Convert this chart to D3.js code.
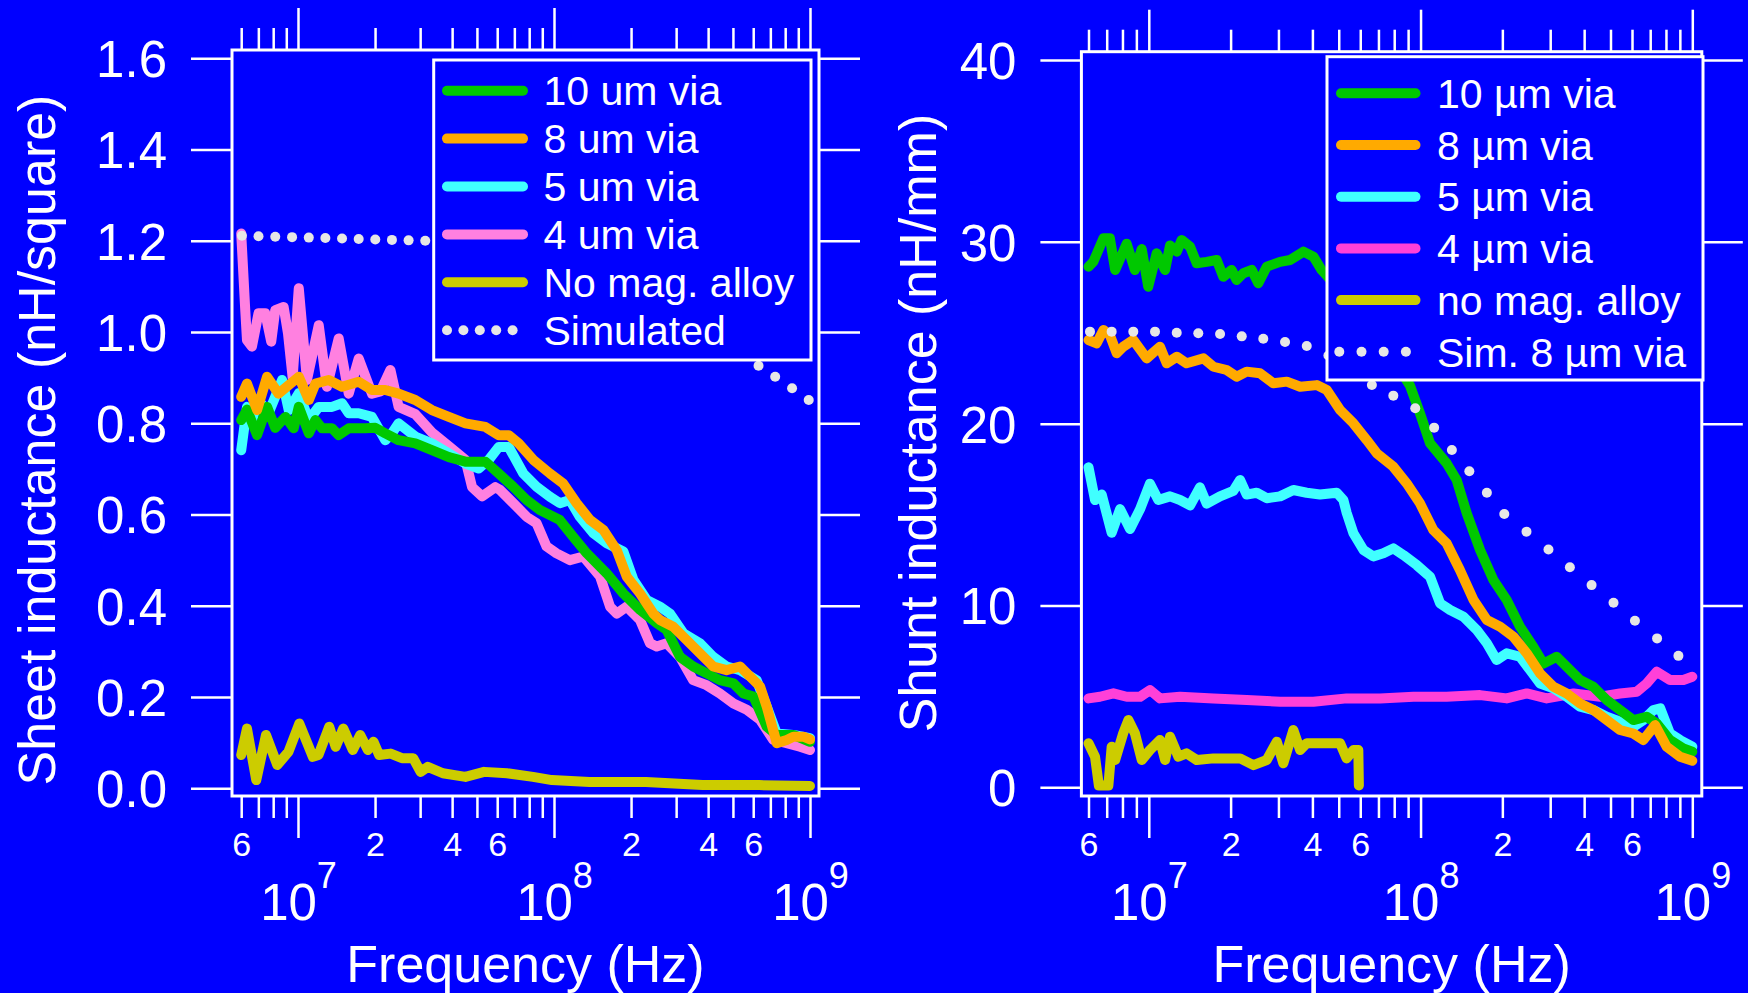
<!DOCTYPE html>
<html><head><meta charset="utf-8">
<script src="https://cdn.jsdelivr.net/npm/d3@7"></script>
<style>html,body{margin:0;padding:0;background:#0000ff;overflow:hidden}</style>
</head><body>
<svg id="chart" width="1748" height="993"></svg>
<script>
// ---------------- DATA ----------------
// Left panel: sheet inductance (nH/square) vs frequency (Hz)
const sheet10um = [[6.0e6,0.807],[6.32e6,0.83],[6.92e6,0.774],[7.57e6,0.836],[8.15e6,0.79],[8.93e6,0.814],[9.62e6,0.789],[1.007e7,0.836],[1.102e7,0.778],[1.17e7,0.807],[1.242e7,0.789],[1.358e7,0.789],[1.442e7,0.774],[1.578e7,0.789],[1.832e7,0.789],[2.004e7,0.79],[2.193e7,0.778],[2.472e7,0.763],[2.871e7,0.756],[3.334e7,0.741],[3.882e7,0.726],[4.508e7,0.716],[5.395e7,0.716],[6.081e7,0.69],[6.93e7,0.661],[7.82e7,0.632],[8.81e7,0.61],[1.054e8,0.588],[1.189e8,0.551],[1.343e8,0.515],[1.607e8,0.471],[1.866e8,0.427],[2.168e8,0.391],[2.518e8,0.362],[2.754e8,0.347],[3.105e8,0.288],[3.499e8,0.267],[3.945e8,0.252],[4.446e8,0.237],[5.023e8,0.23],[5.495e8,0.208],[6.012e8,0.201],[6.776e8,0.135],[7.413e8,0.117],[8.61e8,0.117],[1.0e9,0.102]];
const sheet8um = [[6.0e6,0.858],[6.32e6,0.887],[6.92e6,0.829],[7.57e6,0.902],[8.39e6,0.865],[1.007e7,0.902],[1.102e7,0.851],[1.17e7,0.887],[1.318e7,0.895],[1.486e7,0.88],[1.726e7,0.891],[1.945e7,0.873],[2.193e7,0.873],[2.472e7,0.865],[2.871e7,0.851],[3.334e7,0.829],[3.882e7,0.814],[4.508e7,0.8],[5.395e7,0.792],[6.081e7,0.774],[6.653e7,0.774],[7.278e7,0.756],[8.30e7,0.72],[9.64e7,0.69],[1.086e8,0.668],[1.225e8,0.625],[1.384e8,0.588],[1.56e8,0.566],[1.758e8,0.522],[1.923e8,0.464],[2.168e8,0.427],[2.443e8,0.383],[2.594e8,0.369],[2.924e8,0.354],[3.296e8,0.325],[3.715e8,0.296],[4.188e8,0.267],[4.721e8,0.259],[5.333e8,0.267],[5.834e8,0.245],[6.383e8,0.223],[6.776e8,0.179],[7.413e8,0.099],[8.11e8,0.106],[8.61e8,0.113],[9.42e8,0.113],[1.0e9,0.107]];
const sheet5um = [[6.0e6,0.741],[6.32e6,0.836],[6.61e6,0.807],[7.01e6,0.851],[7.67e6,0.822],[8.67e6,0.895],[9.2e6,0.829],[1.007e7,0.866],[1.102e7,0.807],[1.205e7,0.836],[1.358e7,0.836],[1.486e7,0.844],[1.578e7,0.822],[1.726e7,0.822],[1.945e7,0.814],[2.193e7,0.763],[2.328e7,0.778],[2.472e7,0.80],[2.871e7,0.771],[3.334e7,0.756],[3.882e7,0.734],[4.508e7,0.712],[5.082e7,0.701],[5.559e7,0.72],[6.081e7,0.748],[6.653e7,0.748],[7.59e7,0.69],[8.55e7,0.661],[9.64e7,0.639],[1.054e8,0.625],[1.153e8,0.632],[1.262e8,0.595],[1.426e8,0.559],[1.607e8,0.537],[1.866e8,0.519],[2.042e8,0.457],[2.301e8,0.413],[2.594e8,0.398],[2.838e8,0.383],[3.199e8,0.34],[3.715e8,0.318],[4.188e8,0.288],[4.721e8,0.267],[5.333e8,0.259],[6.194e8,0.237],[6.776e8,0.179],[7.413e8,0.12],[8.61e8,0.117],[1.0e9,0.11]];
const sheet4um = [[6.0e6,1.216],[6.22e6,1.05],[6.32e6,0.982],[6.61e6,0.968],[7.01e6,1.041],[7.45e6,1.041],[7.86e6,0.979],[8.15e6,1.048],[8.79e6,1.055],[9.14e6,0.997],[9.53e6,0.90],[1.007e7,1.096],[1.084e7,0.895],[1.205e7,1.015],[1.297e7,0.88],[1.442e7,0.986],[1.578e7,0.865],[1.726e7,0.942],[1.945e7,0.865],[2.099e7,0.87],[2.296e7,0.917],[2.472e7,0.836],[2.871e7,0.82],[3.334e7,0.78],[3.882e7,0.75],[4.508e7,0.72],[4.786e7,0.66],[5.236e7,0.64],[5.902e7,0.66],[6.15e7,0.654],[6.93e7,0.625],[7.82e7,0.595],[8.55e7,0.581],[9.35e7,0.53],[1.023e8,0.515],[1.153e8,0.5],[1.303e8,0.508],[1.514e8,0.464],[1.656e8,0.398],[1.758e8,0.383],[1.923e8,0.398],[2.168e8,0.369],[2.371e8,0.318],[2.518e8,0.311],[2.754e8,0.318],[3.105e8,0.288],[3.499e8,0.237],[3.945e8,0.226],[4.446e8,0.208],[5.023e8,0.186],[5.662e8,0.172],[6.383e8,0.15],[7.194e8,0.106],[8.11e8,0.099],[9.14e8,0.091],[1.0e9,0.084]];
const sheetNoAlloy = [[6.0e6,0.073],[6.32e6,0.131],[6.87e6,0.018],[7.5e6,0.117],[8.3e6,0.051],[9.18e6,0.08],[1.012e7,0.142],[1.143e7,0.069],[1.202e7,0.073],[1.324e7,0.135],[1.403e7,0.091],[1.503e7,0.131],[1.637e7,0.084],[1.75e7,0.117],[1.875e7,0.084],[1.972e7,0.102],[2.075e7,0.073],[2.301e7,0.076],[2.547e7,0.066],[2.818e7,0.066],[3.013e7,0.036],[3.214e7,0.047],[3.681e7,0.033],[4.508e7,0.025],[5.333e7,0.036],[6.546e7,0.033],[8.28e7,0.025],[9.82e7,0.018],[1.377e8,0.014],[2.286e8,0.014],[3.802e8,0.007],[6.324e8,0.007],[1.0e9,0.005]];
const sheetSimFreq = [6.04e6,7.01e6,8.15e6,9.48e6,1.102e7,1.279e7,1.486e7,1.726e7,2.004e7,2.328e7,2.704e7,3.141e7,3.648e7,4.246e7,4.932e7,5.728e7,6.653e7,7.727e7,8.974e7,1.042e8,1.211e8,1.406e8,1.633e8,1.901e8,2.208e8,2.564e8,2.979e8,3.459e8,4.018e8,4.667e8,5.42e8,6.295e8,7.311e8,8.511e8,9.886e8];
const sheetSimValue = [1.211,1.210,1.209,1.208,1.207,1.206,1.205,1.204,1.203,1.202,1.201,1.200,1.198,1.196,1.193,1.189,1.184,1.177,1.169,1.159,1.148,1.135,1.120,1.104,1.086,1.066,1.045,1.023,1.000,0.976,0.951,0.926,0.902,0.877,0.851];

// Right panel: shunt inductance (nH/mm) vs frequency (Hz)
const shunt10um = [[6.0e6,28.63],[6.25e6,28.9],[6.81e6,30.2],[7.19e6,30.2],[7.52e6,28.45],[8.29e6,29.9],[8.89e6,28.45],[9.42e6,29.6],[9.95e6,27.53],[1.069e7,29.37],[1.148e7,28.45],[1.197e7,29.8],[1.268e7,29.46],[1.321e7,30.1],[1.419e7,29.73],[1.5e7,28.82],[1.633e7,28.9],[1.778e7,29.0],[1.879e7,28.08],[2.018e7,28.45],[2.104e7,27.9],[2.228e7,28.27],[2.393e7,28.45],[2.529e7,27.72],[2.716e7,28.63],[3.041e7,28.9],[3.311e7,29.0],[3.707e7,29.46],[4.036e7,29.18],[4.325e7,28.45],[4.8e7,27.7],[5.5e7,26.8],[6.3e7,25.7],[7.2e7,24.5],[8.2e7,23.2],[9.14e7,22.1],[9.95e7,20.57],[1.084e8,18.92],[1.247e8,17.82],[1.358e8,16.9],[1.479e8,15.07],[1.656e8,13.05],[1.854e8,11.4],[2.075e8,10.3],[2.323e8,8.83],[2.6e8,7.73],[2.831e8,6.8],[3.17e8,7.18],[3.451e8,6.63],[3.864e8,5.9],[4.325e8,5.53],[4.842e8,4.8],[5.42e8,4.25],[6.067e8,3.7],[6.792e8,3.88],[7.396e8,3.51],[8.279e8,2.6],[9.268e8,2.14],[1.0e9,1.96]];
const shunt8um = [[6.0e6,24.6],[6.43e6,24.42],[6.81e6,25.15],[7.19e6,24.87],[7.62e6,23.87],[8.05e6,24.23],[8.77e6,24.6],[9.82e6,23.59],[1.099e7,24.23],[1.164e7,23.32],[1.268e7,23.68],[1.377e7,23.32],[1.589e7,23.59],[1.73e7,23.13],[1.936e7,22.95],[2.104e7,22.58],[2.291e7,22.86],[2.564e7,22.77],[2.871e7,22.22],[3.221e7,22.31],[3.606e7,22.03],[4.15e7,22.12],[4.519e7,21.85],[5.058e7,20.75],[5.662e7,20.02],[6.339e7,19.1],[6.902e7,18.37],[7.94e7,17.63],[8.89e7,16.72],[9.95e7,15.62],[1.114e8,14.15],[1.247e8,13.42],[1.396e8,11.95],[1.567e8,10.3],[1.754e8,9.2],[1.963e8,8.83],[2.198e8,8.28],[2.46e8,7.37],[2.754e8,6.26],[3.083e8,5.53],[3.451e8,5.16],[3.864e8,4.61],[4.325e8,4.25],[4.842e8,3.7],[5.42e8,3.15],[6.067e8,2.96],[6.607e8,2.6],[7.295e8,3.42],[8.054e8,2.23],[9.016e8,1.68],[1.0e9,1.46]];
const shunt5um = [[6.0e6,17.6],[6.34e6,15.8],[6.71e6,16.1],[7.3e6,14.0],[7.84e6,15.3],[8.53e6,14.2],[9.29e6,15.3],[1.01e7,16.7],[1.084e7,15.8],[1.197e7,16.0],[1.303e7,15.8],[1.419e7,15.5],[1.542e7,16.5],[1.633e7,15.6],[1.828e7,16.0],[2.046e7,16.3],[2.168e7,16.9],[2.291e7,16.1],[2.495e7,16.2],[2.716e7,15.9],[3.041e7,16.0],[3.404e7,16.35],[3.811e7,16.2],[4.266e7,16.1],[4.92e7,16.2],[5.2e7,15.8],[5.346e7,15.1],[5.662e7,13.97],[6.166e7,13.05],[6.699e7,12.7],[7.295e7,12.87],[7.943e7,13.14],[8.65e7,12.77],[9.683e7,12.22],[1.084e8,11.58],[1.18e8,10.12],[1.285e8,9.75],[1.439e8,9.38],[1.611e8,8.65],[1.754e8,7.92],[1.905e8,7.0],[2.075e8,7.37],[2.323e8,7.18],[2.529e8,6.45],[2.754e8,5.71],[3.083e8,5.44],[3.451e8,4.98],[3.864e8,4.43],[4.325e8,4.25],[4.842e8,3.88],[5.42e8,3.61],[6.067e8,3.33],[6.607e8,3.7],[7.194e8,4.25],[7.621e8,4.34],[8.279e8,2.96],[9.016e8,2.6],[1.0e9,2.23]];
const shunt4um = [[6.0e6,4.89],[6.61e6,4.98],[7.41e6,5.17],[8.29e6,4.98],[9.29e6,4.98],[1.01e7,5.35],[1.099e7,4.89],[1.303e7,4.98],[1.73e7,4.89],[2.291e7,4.8],[3.041e7,4.71],[4.036e7,4.71],[5.346e7,4.89],[7.10e7,4.89],[9.42e7,4.98],[1.247e8,4.98],[1.656e8,5.07],[2.075e8,4.89],[2.46e8,5.16],[2.911e8,4.89],[3.656e8,5.16],[4.581e8,4.98],[5.42e8,5.16],[6.252e8,5.26],[6.792e8,5.71],[7.396e8,6.36],[8.279e8,5.9],[9.268e8,5.9],[1.0e9,6.08]];
const shuntNoAlloy = [[6.0e6,2.42],[6.34e6,1.68],[6.55e6,0.1],[7.10e6,0.1],[7.3e6,2.23],[7.52e6,1.5],[8.05e6,2.97],[8.41e6,3.7],[8.89e6,2.97],[9.42e6,1.5],[1.01e7,2.05],[1.099e7,2.6],[1.148e7,1.5],[1.197e7,2.78],[1.285e7,1.68],[1.377e7,1.87],[1.5e7,1.5],[1.73e7,1.59],[1.991e7,1.59],[2.168e7,1.59],[2.427e7,1.22],[2.716e7,1.5],[2.958e7,2.51],[3.126e7,1.32],[3.404e7,3.15],[3.606e7,2.05],[3.811e7,2.42],[4.266e7,2.42],[5.058e7,2.42],[5.346e7,1.59],[5.662e7,2.05],[5.902e7,2.05],[5.93e7,0.1]];
const shuntSimFreq = [6.075e6,7.30e6,8.77e6,1.054e7,1.267e7,1.521e7,1.829e7,2.198e7,2.638e7,3.172e7,3.813e7,4.581e7,5.508e7,6.62e7,7.94e7,9.56e7,1.122e8,1.304e8,1.512e8,1.754e8,2.033e8,2.454e8,2.956e8,3.544e8,4.26e8,5.13e8,6.15e8,7.42e8,8.89e8];
const shuntSimValue = [25.06,25.06,25.06,25.06,25.0,24.97,24.93,24.8,24.67,24.49,24.27,23.75,23.05,22.13,21.54,20.85,19.78,18.55,17.38,16.2,15.03,14.06,13.08,12.1,11.12,10.15,9.16,8.19,7.23];

// Ticks & labels
const majorTickValues = [1e7,1e8,1e9];
const majorExponents = ['7','8','9'];
const minorTickValues = [6e6,7e6,8e6,9e6,2e7,3e7,4e7,5e7,6e7,7e7,8e7,9e7,2e8,3e8,4e8,5e8,6e8,7e8,8e8,9e8];
const minorLabelValues = [6e6,2e7,4e7,6e7,2e8,4e8,6e8];
const minorLabelText = ['6','2','4','6','2','4','6'];
const sheetYTicks = [0,0.2,0.4,0.6,0.8,1.0,1.2,1.4,1.6];
const shuntYTicks = [0,10,20,30,40];
const sheetLegendLabels = ['10 um via','8 um via','5 um via','4 um via','No mag. alloy','Simulated'];
const shuntLegendLabels = ['10 \u00b5m via','8 \u00b5m via','5 \u00b5m via','4 \u00b5m via','no mag. alloy','Sim. 8 \u00b5m via'];
const xTitle = 'Frequency (Hz)';
const sheetYTitle = 'Sheet inductance (nH/square)';
const shuntYTitle = 'Shunt inductance (nH/mm)';

// ---------------- DRAWING ----------------
const FONT = "'Liberation Sans', Arial, Helvetica, sans-serif";
const BG = '#0000ff';
const C = {green:'#00c800', orange:'#ffaa00', cyan:'#40ffff', pinkL:'#ff80e0', pinkR:'#ff40d8', olive:'#cccc00', sim:'#e6e6e6'};
const LW = 10;
const svg = d3.select('#chart');
svg.append('rect').attr('width',1748).attr('height',993).attr('fill',BG);

function panel(cfg){
  const g = svg.append('g');
  const f = cfg.frame;
  const x = d3.scaleLog().domain([1e7,1e9]).range(cfg.xr);
  const y = d3.scaleLinear().domain(cfg.yd).range(cfg.yr);
  const line = d3.line().x(d=>x(d[0])).y(d=>y(d[1]));

  cfg.series.forEach(s=>{
    g.append('path').attr('d',line(s.data)).attr('fill','none')
      .attr('stroke',s.color).attr('stroke-width',LW)
      .attr('stroke-linejoin','round').attr('stroke-linecap','round');
  });
  const sim = cfg.simFreq.map((fq,i)=>[fq,cfg.simValue[i]]);
  g.append('g').selectAll('circle').data(sim).join('circle')
    .attr('cx',d=>x(d[0])).attr('cy',d=>y(d[1])).attr('r',5).attr('fill',C.sim);

  const styleAxis = a=>{
    a.attr('font-family',FONT);
    a.select('.domain').remove();
    a.selectAll('line').attr('stroke','#fff').attr('stroke-width',2.5);
    a.selectAll('text').attr('fill','#fff');
  };
  g.append('g').attr('transform',`translate(0,${f.b})`)
    .call(d3.axisBottom(x).tickValues(minorTickValues).tickSize(22)
      .tickFormat(d=>{const i=minorLabelValues.indexOf(d);return i>=0?minorLabelText[i]:'';}))
    .call(styleAxis)
    .call(a=>a.selectAll('text').attr('font-size',34).attr('y',60).attr('dy',0));
  g.append('g').attr('transform',`translate(0,${f.b})`)
    .call(d3.axisBottom(x).tickValues(majorTickValues).tickSize(42).tickFormat(()=>''))
    .call(styleAxis)
    .call(a=>a.selectAll('.tick text').each(function(d,i){
      const t=d3.select(this).attr('y',124).attr('dy',0).attr('font-size',51);
      t.append('tspan').text('10');
      t.append('tspan').attr('dy',-32).attr('font-size',36).text(majorExponents[i]);
    }));
  g.append('g').attr('transform',`translate(0,${f.t})`)
    .call(d3.axisTop(x).tickValues(minorTickValues).tickSize(22).tickFormat(()=>''))
    .call(styleAxis);
  g.append('g').attr('transform',`translate(0,${f.t})`)
    .call(d3.axisTop(x).tickValues(majorTickValues).tickSize(42).tickFormat(()=>''))
    .call(styleAxis);
  g.append('g').attr('transform',`translate(${f.l},0)`)
    .call(d3.axisLeft(y).tickValues(cfg.yTicks).tickSize(41).tickPadding(24).tickFormat(cfg.yFmt))
    .call(styleAxis)
    .call(a=>a.selectAll('text').attr('font-size',51).attr('dy','0.36em'));
  g.append('g').attr('transform',`translate(${f.r},0)`)
    .call(d3.axisRight(y).tickValues(cfg.yTicks).tickSize(41).tickFormat(()=>''))
    .call(styleAxis);
  g.append('rect').attr('x',f.l).attr('y',f.t).attr('width',f.r-f.l).attr('height',f.b-f.t)
    .attr('fill','none').attr('stroke','#fff').attr('stroke-width',3);

  g.append('text').attr('x',(f.l+f.r)/2).attr('y',982).attr('text-anchor','middle')
    .attr('font-family',FONT).attr('font-size',52).attr('fill','#fff').text(xTitle);
  g.append('text').attr('transform',`translate(${cfg.yTitlePos[0]},${cfg.yTitlePos[1]}) rotate(-90)`)
    .attr('text-anchor','middle').attr('font-family',FONT).attr('font-size',52).attr('fill','#fff').text(cfg.yTitle);

  const L = cfg.legend;
  const lg = g.append('g');
  lg.append('rect').attr('x',L.x).attr('y',L.y).attr('width',L.w).attr('height',L.h)
    .attr('fill',BG).attr('stroke','#fff').attr('stroke-width',3);
  cfg.legendLabels.forEach((lab,i)=>{
    const yy = L.row0 + i*L.rowStep;
    if(i < cfg.legendSeries.length){
      lg.append('line').attr('x1',L.sx1).attr('x2',L.sx2).attr('y1',yy).attr('y2',yy)
        .attr('stroke',cfg.legendSeries[i].color).attr('stroke-width',LW).attr('stroke-linecap','round');
    } else {
      d3.range(L.dotCount).forEach(k=>{
        lg.append('circle').attr('cx',L.dot0 + k*L.dotStep).attr('cy',yy).attr('r',5).attr('fill',C.sim);
      });
    }
    lg.append('text').attr('x',L.tx).attr('y',yy+14.7).attr('font-family',FONT)
      .attr('font-size',41).attr('fill','#fff').text(lab);
  });
}

const sG={data:sheet10um,color:C.green}, sO={data:sheet8um,color:C.orange}, sC={data:sheet5um,color:C.cyan},
      sP={data:sheet4um,color:C.pinkL}, sY={data:sheetNoAlloy,color:C.olive};
panel({
  frame:{l:232,r:819,t:50,b:796},
  xr:[298,810], yd:[0,1.6], yr:[788.3,58.3],
  series:[sP,sC,sG,sO,sY],
  legendSeries:[sG,sO,sC,sP,sY],
  simFreq:sheetSimFreq, simValue:sheetSimValue,
  yTicks:sheetYTicks, yFmt:d3.format('.1f'),
  yTitle:sheetYTitle, yTitlePos:[55,440],
  legendLabels:sheetLegendLabels,
  legend:{x:433.7,y:60,w:377.3,h:300,row0:90.7,rowStep:47.9,sx1:447,sx2:523,tx:543.5,dot0:447,dotStep:16.4,dotCount:5}
});

const rG={data:shunt10um,color:C.green}, rO={data:shunt8um,color:C.orange}, rC={data:shunt5um,color:C.cyan},
      rP={data:shunt4um,color:C.pinkR}, rY={data:shuntNoAlloy,color:C.olive};
panel({
  frame:{l:1081.4,r:1701.8,t:51.7,b:796},
  xr:[1148.8,1692.3], yd:[0,40], yr:[787.3,60],
  series:[rP,rY,rC,rG,rO],
  legendSeries:[rG,rO,rC,rP,rY],
  simFreq:shuntSimFreq, simValue:shuntSimValue,
  yTicks:shuntYTicks, yFmt:d3.format('d'),
  yTitle:shuntYTitle, yTitlePos:[936,423],
  legendLabels:shuntLegendLabels,
  legend:{x:1327,y:56.7,w:376,h:323.3,row0:93.3,rowStep:51.7,sx1:1341,sx2:1415.5,tx:1437,dot0:1339.3,dotStep:22.2,dotCount:4}
});
</script>
</body></html>
